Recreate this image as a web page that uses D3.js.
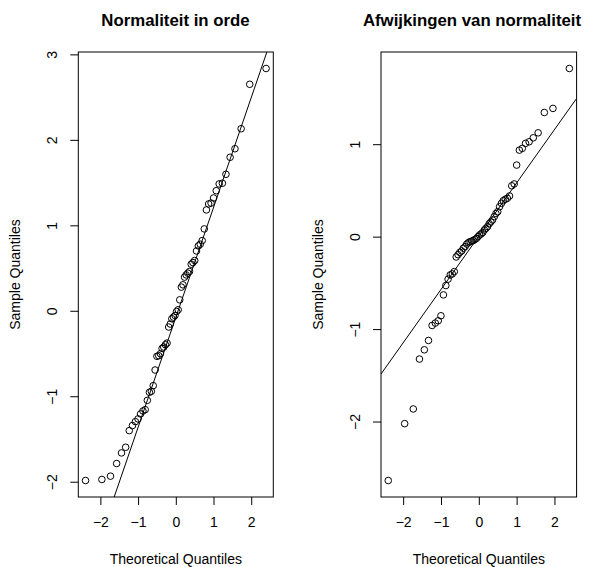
<!DOCTYPE html>
<html>
<head>
<meta charset="utf-8">
<title>QQ-plots</title>
<script src="https://d3js.org/d3.v7.min.js"></script>
<style>
  body { margin: 0; background: #fff; }
  svg { display: block; font-family: "Liberation Sans", Arial, Helvetica, sans-serif; }
  .box { fill: none; stroke: #000; stroke-width: 1px; }
  .pt { fill: none; stroke: #000; stroke-width: 1px; }
  .qqline { stroke: #000; stroke-width: 1px; }
  .axis text { font-size: 14px; fill: #000; }
  .axis line { stroke: #000; }
</style>
</head>
<body>
<svg width="589" height="567"></svg>
<script>
// theoretical quantiles (60 points), same for both panels
var theoretical = [-2.394, -1.960, -1.732, -1.569, -1.440, -1.330, -1.235, -1.150, -1.072, -1.001,
  -0.935, -0.871, -0.812, -0.755, -0.700, -0.648, -0.598, -0.549, -0.501, -0.454,
  -0.408, -0.363, -0.319, -0.275, -0.232, -0.189, -0.147, -0.105, -0.063, -0.021,
  0.021, 0.063, 0.105, 0.147, 0.189, 0.232, 0.275, 0.319, 0.363, 0.408,
  0.454, 0.501, 0.549, 0.598, 0.648, 0.700, 0.755, 0.812, 0.871, 0.935,
  1.001, 1.072, 1.150, 1.235, 1.330, 1.440, 1.569, 1.732, 1.960, 2.394];

// sample quantiles, left panel
var sampleNormal = [-1.986, -1.974, -1.935, -1.787, -1.663, -1.597, -1.402, -1.343, -1.297, -1.265,
  -1.207, -1.172, -1.157, -1.048, -0.954, -0.942, -0.876, -0.693, -0.533, -0.525,
  -0.502, -0.440, -0.424, -0.397, -0.378, -0.190, -0.155, -0.093, -0.074, -0.055,
  -0.008, 0.012, 0.128, 0.277, 0.304, 0.394, 0.420, 0.440, 0.459, 0.545,
  0.564, 0.588, 0.700, 0.759, 0.779, 0.821, 0.958, 1.180, 1.250, 1.260,
  1.320, 1.405, 1.484, 1.492, 1.597, 1.796, 1.896, 2.130, 2.650, 2.835];

// sample quantiles, right panel
var sampleSkewed = [-2.638, -2.023, -1.864, -1.324, -1.224, -1.123, -0.961, -0.935, -0.910, -0.856,
  -0.630, -0.529, -0.460, -0.414, -0.403, -0.378, -0.220, -0.195, -0.170, -0.155,
  -0.125, -0.108, -0.080, -0.065, -0.054, -0.048, -0.043, -0.030, -0.020, 0.000,
  0.018, 0.030, 0.045, 0.072, 0.090, 0.108, 0.140, 0.160, 0.180, 0.216,
  0.250, 0.270, 0.324, 0.360, 0.390, 0.404, 0.415, 0.440, 0.550, 0.570,
  0.774, 0.936, 0.955, 1.009, 1.026, 1.069, 1.123, 1.343, 1.387, 1.819];

var titles = ["Normaliteit in orde", "Afwijkingen van normaliteit"];
var xTicks = [-2, -1, 0, 1, 2];
var yTicksLeft = [-2, -1, 0, 1, 2, 3];
var yTicksRight = [-2, -1, 0, 1];

var svg = d3.select("svg");
var fmt = d3.format("");

function padded(ext) {
  var r = ext[1] - ext[0];
  return [ext[0] - 0.04 * r, ext[1] + 0.04 * r];
}

function panel(id, left, right, ys, title, titleX, yTicks) {
  var top = 52, bottom = 497;
  var g = svg.append("g");

  var x = d3.scaleLinear().domain(padded(d3.extent(theoretical))).range([left, right]);
  var y = d3.scaleLinear().domain(padded(d3.extent(ys))).range([bottom, top]);

  g.append("clipPath").attr("id", id)
    .append("rect").attr("x", left).attr("y", top)
    .attr("width", right - left).attr("height", bottom - top);

  // qqline through the quartiles, like R
  var q1 = d3.quantile(ys, 0.25), q3 = d3.quantile(ys, 0.75);
  var slope = (q3 - q1) / (2 * 0.6744898);
  var icpt = q1 + slope * 0.6744898;
  var xd = x.domain();
  g.append("line").attr("class", "qqline")
    .attr("clip-path", "url(#" + id + ")")
    .attr("x1", x(xd[0])).attr("y1", y(icpt + slope * xd[0]))
    .attr("x2", x(xd[1])).attr("y2", y(icpt + slope * xd[1]));

  g.selectAll(".pt")
    .data(theoretical.map(function(t, i) { return {t: t, s: ys[i]}; }))
    .enter().append("circle")
      .attr("class", "pt")
      .attr("cx", function(d) { return x(d.t); })
      .attr("cy", function(d) { return y(d.s); })
      .attr("r", 3.3);

  g.append("rect").attr("class", "box")
    .attr("x", left).attr("y", top)
    .attr("width", right - left).attr("height", bottom - top);

  var ax = g.append("g").attr("class", "axis")
    .attr("transform", "translate(0," + bottom + ")")
    .call(d3.axisBottom(x).tickValues(xTicks).tickFormat(fmt).tickSize(8).tickPadding(12));
  ax.select(".domain").remove();

  var ay = g.append("g").attr("class", "axis")
    .attr("transform", "translate(" + left + ",0)")
    .call(d3.axisLeft(y).tickValues(yTicks).tickFormat(fmt).tickSize(8));
  ay.select(".domain").remove();
  ay.selectAll("text")
    .attr("transform", "rotate(-90)")
    .attr("x", 0).attr("y", -21).attr("dy", 0)
    .attr("text-anchor", "middle");

  g.append("text")
    .attr("x", titleX).attr("y", 26)
    .attr("text-anchor", "middle")
    .style("font-weight", "bold").style("font-size", "16.8px")
    .text(title);

  g.append("text")
    .attr("x", (left + right) / 2).attr("y", 564)
    .attr("text-anchor", "middle").style("font-size", "14px")
    .text("Theoretical Quantiles");

  g.append("text")
    .attr("transform", "translate(" + (left - 58) + "," + ((top + bottom) / 2) + ") rotate(-90)")
    .attr("text-anchor", "middle").style("font-size", "14px")
    .text("Sample Quantiles");
}

panel("clipL", 78.3, 273.3, sampleNormal, titles[0], 175.5, yTicksLeft);
panel("clipR", 381, 576.6, sampleSkewed, titles[1], 472, yTicksRight);
</script>
</body>
</html>
